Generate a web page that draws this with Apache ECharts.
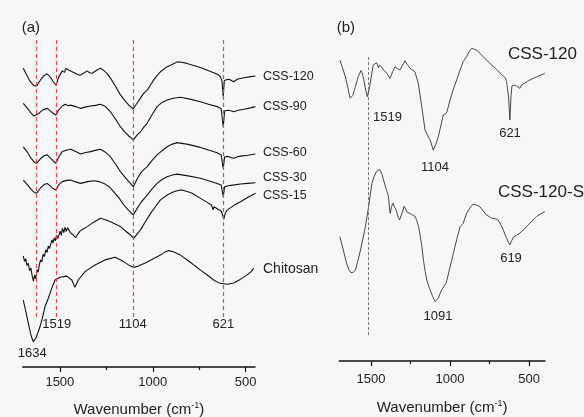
<!DOCTYPE html>
<html>
<head>
<meta charset="utf-8">
<script src="https://cdn.jsdelivr.net/npm/echarts@6/dist/echarts.min.js"></script>
<style>
html, body { margin: 0; padding: 0; background: #f7f7f7; }
#ftirBox { width: 584px; height: 417px; }
</style>
</head>
<body>
<div id="ftirBox"></div>
<script>
// FTIR spectra, panel (a) and panel (b)
// [wavenumber, offset transmittance (a.u.)]

var css120A = [[1697,99.6],[1680,97.5],[1660,95.2],[1640,93.8],[1625,93.7],[1605,95.6],[1585,97.2],[1568,97.7],[1550,96.5],[1535,95],[1521,94],[1505,96.8],[1487,98.7],[1475,98.2],[1468,99.5],[1460,99.3],[1450,98.9],[1442,98.8],[1420,98],[1405,97.5],[1389,97.3],[1370,98],[1353,98.7],[1340,98.1],[1326,97.9],[1300,99],[1281,99.6],[1263,98.8],[1245,97.8],[1228,96.3],[1200,93.5],[1174,90.7],[1150,88.8],[1129,87.3],[1105,86],[1095,87],[1084,88],[1065,89.8],[1048,91.3],[1040,91.5],[1030,92.3],[1012,94],[995,95.7],[975,97.3],[959,98.4],[930,99.8],[905,100.6],[880,101.3],[869,101.7],[845,101.6],[816,101.2],[780,100.5],[744,99.8],[710,99],[672,98.1],[650,97.5],[636,96.7],[628,95.5],[621,90.1],[615,95.5],[609,95.7],[595,95.9],[582,95.7],[564,95.1],[546,95.9],[510,96.4],[480,96.7],[448,97]];

var css90A = [[1697,87.9],[1675,86.3],[1655,84.6],[1640,83.7],[1630,83.4],[1612,84.6],[1590,85.8],[1568,86.2],[1550,85.3],[1535,84.5],[1521,84],[1505,85.8],[1487,87],[1470,87.6],[1455,87.1],[1442,87.3],[1415,86.8],[1389,86.2],[1360,86.7],[1335,87],[1310,87.2],[1281,87.6],[1255,86.8],[1228,85.1],[1200,82.6],[1174,80.1],[1150,78.3],[1129,77],[1105,75.7],[1085,77.3],[1066,78.4],[1050,79.8],[1030,81.3],[1005,84],[977,86.8],[950,88.2],[923,89],[890,89.6],[851,89.9],[800,89.3],[744,88.4],[700,87.6],[654,86.8],[632,86.1],[621,80.1],[613,85.4],[595,85.6],[580,85.4],[564,85.1],[540,85.6],[510,85.9],[480,86.3],[448,86.8]];

var css60A = [[1697,73.4],[1675,71.6],[1655,69.6],[1638,68.3],[1625,67.9],[1605,69.4],[1585,70.4],[1568,70.7],[1550,69.6],[1535,68.6],[1521,67.9],[1505,70.1],[1487,71.8],[1470,72.2],[1455,72.4],[1442,72.6],[1415,71.8],[1389,71],[1360,71.5],[1335,71.8],[1305,72.3],[1281,72.6],[1255,71.6],[1228,70.1],[1200,67.6],[1174,65.1],[1150,63.3],[1129,61.8],[1105,60.1],[1085,62.6],[1066,64.6],[1050,65.7],[1030,66.8],[1005,68.8],[977,70.7],[950,72.1],[923,73.4],[895,74.3],[869,74.8],[810,74.2],[744,73.2],[700,72.3],[654,71.4],[632,70.7],[621,66.2],[613,70.1],[595,70.2],[580,69.8],[564,69.6],[545,70.1],[528,70.3],[490,70.6],[448,71]];

var css30A = [[1697,62.3],[1675,60.8],[1655,59.2],[1638,58.2],[1625,57.9],[1605,59.6],[1585,60.8],[1568,61.2],[1550,60.2],[1535,59.4],[1521,59],[1505,60.8],[1487,61.8],[1465,62.2],[1442,62.3],[1415,61.7],[1389,61.2],[1350,61.8],[1317,62.1],[1290,61.8],[1263,61.2],[1235,60.1],[1210,58.4],[1180,56.2],[1156,54],[1130,52.2],[1105,50.7],[1085,52.8],[1066,54.6],[1050,55.9],[1030,57.3],[1005,59.3],[977,61.2],[950,62.5],[923,63.4],[895,64],[869,64.3],[810,63.7],[744,62.9],[700,62.1],[654,61.2],[632,60.7],[621,56.8],[613,60.1],[595,60.4],[560,60.7],[528,61],[490,61.2],[448,61.4]];

var css15A = [[1697,37],[1690,35.2],[1684,36.1],[1677,33.8],[1670,34.6],[1663,32.1],[1656,33],[1649,30.4],[1642,28.6],[1636,30.6],[1630,29.4],[1623,32.4],[1617,31.6],[1610,34.2],[1604,35.7],[1597,35],[1590,37.6],[1583,36.8],[1576,39.1],[1569,38.2],[1562,40.3],[1556,39.5],[1550,40.7],[1543,42.4],[1537,41.3],[1530,43],[1524,42.1],[1518,43.9],[1511,42.8],[1505,43.4],[1498,45.3],[1492,43.9],[1486,46.2],[1479,44.8],[1472,46.6],[1466,45.1],[1459,46.4],[1452,45.7],[1440,44.6],[1428,44],[1416,43.1],[1406,43.4],[1393,45.2],[1378,45.9],[1365,46.3],[1353,46.8],[1320,48.2],[1281,49.6],[1255,49.1],[1227,48.4],[1200,47.6],[1174,46.8],[1140,45],[1120,44],[1102,42.9],[1085,44.3],[1066,45.7],[1040,48.4],[1012,51.2],[985,53.5],[959,55.7],[920,57.4],[887,58.4],[860,58.9],[842,59],[815,58.5],[788,57.9],[765,57],[743,56.2],[705,54.8],[684,54],[676,52.4],[670,53.4],[650,52.6],[632,52],[624,50.6],[618,49.2],[610,51.2],[600,52.3],[565,53.8],[528,55.1],[490,56.5],[447,57.9]];

var chitosanA = [[1697,22.3],[1685,19],[1670,14.6],[1655,10.5],[1643,8.4],[1630,9.5],[1618,11.5],[1607,13.4],[1592,16.8],[1580,20.1],[1562,22.9],[1544,26.2],[1526,29],[1499,29.9],[1463,30.3],[1436,29],[1419,26.6],[1401,29],[1365,31.8],[1311,34],[1257,35.7],[1203,36.6],[1170,35.6],[1147,34.7],[1125,33.8],[1102,33.2],[1080,33.6],[1060,34.2],[1039,34.7],[1000,36],[959,37.3],[935,38.3],[914,38.8],[890,38.4],[851,37.3],[800,35],[743,32.3],[705,30.6],[672,29],[650,28.2],[636,27.9],[600,27.6],[564,28],[530,29.2],[492,30.7],[470,31.9],[457,32.9]];

var css120B = [[1696,100.3],[1680,97.8],[1662,94.8],[1645,90.8],[1632,87.6],[1615,88.5],[1598,91.5],[1580,94.8],[1563,96.8],[1555,96],[1545,93.7],[1532,90],[1523,88.1],[1508,91.5],[1494,96],[1485,98.7],[1473,99.2],[1464,99.4],[1458,98.7],[1452,97.8],[1445,98.6],[1432,98],[1420,97],[1400,95.9],[1380,94.2],[1362,96.5],[1348,98.1],[1330,97.4],[1316,97],[1300,98.6],[1285,100.1],[1270,98.8],[1253,97.6],[1238,97],[1222,96.4],[1201,92.6],[1179,84.8],[1158,77],[1140,75],[1126,73.7],[1106,70.3],[1090,72.2],[1074,74.8],[1058,78.5],[1043,82],[1030,82.3],[1020,83],[1010,85],[1000,87],[980,90.5],[958,93.7],[938,96.8],[917,99.8],[896,101.4],[880,103],[864,104.2],[850,104],[833,103.7],[790,101.4],[748,99.2],[705,97.1],[664,95],[650,94.3],[643,93.1],[630,88],[622,80.3],[615,88],[609,91.7],[595,92],[580,91.7],[568,91.3],[559,90.9],[548,92],[538,92.6],[505,93.4],[475,94.2],[440,95],[401,95.9]];

var css120SB = [[1696,41.4],[1675,37],[1654,32.6],[1640,30.5],[1626,29.4],[1612,29.6],[1598,30.3],[1582,33.5],[1566,37],[1550,41],[1535,44.8],[1525,48],[1515,51.4],[1504,55.5],[1494,59.2],[1480,61.5],[1466,63.1],[1455,63.6],[1445,63.9],[1432,62.5],[1420,60.3],[1405,57.5],[1389,54.8],[1383,51],[1378,49.2],[1370,51.5],[1361,52.6],[1350,51.2],[1340,50.3],[1330,48.2],[1319,47],[1302,49.5],[1290,51.6],[1284,51.4],[1270,49.5],[1252,49.2],[1236,48.6],[1220,48.1],[1210,46.8],[1199,44.8],[1188,41.5],[1178,38.1],[1168,33.5],[1157,29.8],[1147,27],[1137,25.3],[1126,23.7],[1110,21.5],[1095,19.8],[1085,20.2],[1074,20.9],[1063,22.5],[1053,23.7],[1040,24.8],[1026,25.9],[1015,28],[1005,30.3],[992,33],[979,35.9],[958,40.5],[937,44.8],[927,45.2],[917,45.9],[906,47.6],[896,49.2],[875,51],[854,52.3],[832,52],[811,51.4],[790,50],[770,48.7],[738,47.6],[715,47.4],[696,47],[680,45.5],[664,43.7],[645,41.2],[630,39.5],[622,38.7],[610,40.2],[597,41.4],[578,42],[559,42.6],[540,43.5],[517,44.8],[485,46.5],[454,48.1],[430,49],[401,49.8]];

var markA = [1628, 1519, 1104, 621];
var markB = [1519];
var majorTicks = [1500, 1000, 500];
var minorTicks = [1250, 750];

var fontFam = 'Liberation Sans, Arial, sans-serif';
var textColor = '#222';

function txt(x, y, text, size, align) {
    return {
        type: 'text',
        x: x,
        y: y,
        silent: true,
        style: {
            text: text,
            fill: textColor,
            font: size + 'px ' + fontFam,
            textAlign: align || 'left',
            align: align || 'left',
            textVerticalAlign: 'middle',
            verticalAlign: 'middle'
        }
    };
}

function mainAxis(gridIndex, min, max, labelMargin, nameGap) {
    return {
        type: 'value',
        gridIndex: gridIndex,
        position: 'bottom',
        inverse: true,
        min: min,
        max: max,
        name: '{n|Wavenumber (cm}{s|-1}{n|)}',
        nameLocation: 'middle',
        nameGap: nameGap,
        nameTextStyle: {
            rich: {
                n: { fontSize: 15, fontFamily: fontFam, color: textColor, lineHeight: 18 },
                s: { fontSize: 9, fontFamily: fontFam, color: textColor, verticalAlign: 'top', lineHeight: 18 }
            }
        },
        splitLine: { show: false },
        axisLine: { lineStyle: { color: '#111', width: 1.5 } },
        axisTick: { customValues: majorTicks, length: 5, inside: false, lineStyle: { color: '#111', width: 1.2 } },
        axisLabel: {
            customValues: majorTicks,
            margin: labelMargin,
            fontSize: 13,
            fontFamily: fontFam,
            color: textColor,
            formatter: function (v) { return String(v); }
        }
    };
}

function minorAxis(gridIndex, min, max) {
    return {
        type: 'value',
        gridIndex: gridIndex,
        position: 'bottom',
        inverse: true,
        min: min,
        max: max,
        splitLine: { show: false },
        axisLine: { show: false },
        axisTick: { customValues: minorTicks, length: 3, lineStyle: { color: '#111', width: 1.2 } },
        axisLabel: { show: false }
    };
}

function spectrum(data, xIdx, yIdx, color, width) {
    return {
        type: 'line',
        data: data,
        xAxisIndex: xIdx,
        yAxisIndex: yIdx,
        showSymbol: false,
        symbol: 'none',
        silent: true,
        lineStyle: { color: color, width: width }
    };
}

function dashLines(list, top, bottom, color, dash, width) {
    return {
        symbol: ['none', 'none'],
        silent: true,
        label: { show: false },
        lineStyle: { type: dash, color: color, width: width },
        data: list.map(function (w) {
            return [{ coord: [w, top] }, { coord: [w, bottom] }];
        })
    };
}

function loadFTIR() {
    var myChart = echarts.init(document.getElementById('ftirBox'));

    var sA = spectrum(chitosanA, 0, 0, '#111', 1.1);
    sA.markLine = dashLines(markA, 109, 16.7, '#e8474a', [4, 3], 1.2);
    var sB = spectrum(css120SB, 2, 1, '#333', 0.9);
    sB.markLine = dashLines(markB, 101.3, 8.1, '#777', [3, 2], 1);

    var option = {
        backgroundColor: '#f7f7f7',
        animation: false,
        grid: [
            { left: 22.7, width: 232.3, top: 40, height: 327, outerBoundsMode: 'none', containLabel: false },
            { left: 339.3, width: 205.7, top: 40, height: 321, outerBoundsMode: 'none', containLabel: false }
        ],
        xAxis: [
            mainAxis(0, 450, 1700, 9, 34),
            minorAxis(0, 450, 1700),
            mainAxis(1, 400, 1700, 12, 38),
            minorAxis(1, 400, 1700)
        ],
        yAxis: [
            { type: 'value', gridIndex: 0, min: 0, max: 109, show: false },
            { type: 'value', gridIndex: 1, min: 0, max: 107, show: false }
        ],
        series: [
            sA,
            spectrum(css15A, 0, 0, '#111', 1.1),
            spectrum(css30A, 0, 0, '#111', 1.1),
            spectrum(css60A, 0, 0, '#111', 1.1),
            spectrum(css90A, 0, 0, '#111', 1.1),
            spectrum(css120A, 0, 0, '#111', 1.1),
            sB,
            spectrum(css120B, 2, 1, '#333', 0.9)
        ],
        graphic: [
            txt(21.7, 28, '(a)', 15),
            txt(336.7, 28, '(b)', 15),
            txt(263, 77, 'CSS-120', 12.5),
            txt(263, 107, 'CSS-90', 12.5),
            txt(263, 153, 'CSS-60', 12.5),
            txt(263, 178, 'CSS-30', 12.5),
            txt(263, 196, 'CSS-15', 12.5),
            txt(263, 269, 'Chitosan', 14),
            txt(56.7, 324, '1519', 13, 'center'),
            txt(132.7, 324, '1104', 13, 'center'),
            txt(223.3, 324, '621', 13, 'center'),
            txt(32.3, 353, '1634', 13, 'center'),
            txt(508, 54, 'CSS-120', 17),
            txt(498, 192, 'CSS-120-S', 17),
            txt(373, 117, '1519', 13),
            txt(510, 133, '621', 13, 'center'),
            txt(435, 167, '1104', 13, 'center'),
            txt(511, 258, '619', 13, 'center'),
            txt(438, 316, '1091', 13, 'center')
        ]
    };

    myChart.setOption(option);
}

loadFTIR();
</script>
</body>
</html>
